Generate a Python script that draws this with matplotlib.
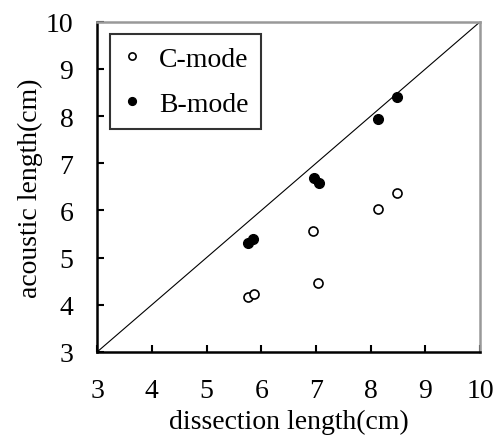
import numpy as np
import matplotlib.pyplot as plt

# dissection length vs acoustic length (cm)
c_dissection = [5.76, 5.87, 6.95, 7.04, 8.14, 8.48]
c_acoustic = [4.17, 4.23, 5.57, 4.46, 6.04, 6.38]

b_dissection = [5.75, 5.85, 6.97, 7.06, 8.14, 8.48]
b_acoustic = [5.32, 5.39, 6.68, 6.59, 7.93, 8.41]

ticks = [3, 4, 5, 6, 7, 8, 9, 10]

plt.rcParams['font.family'] = ['Liberation Serif', 'DejaVu Serif']

fig = plt.figure(figsize=(4.98, 4.39), dpi=100)
ax = fig.add_axes([0.195, 0.196, 0.769, 0.752])

# identity line
ax.plot([3, 10], [3, 10], color='black', lw=0.8, zorder=1)

ax.plot(c_dissection, c_acoustic, linestyle='none', marker='o', markersize=6.5,
        markerfacecolor='white', markeredgecolor='black', markeredgewidth=1.2,
        label='C-mode', zorder=3)
ax.plot(b_dissection, b_acoustic, linestyle='none', marker='o', markersize=7,
        markerfacecolor='black', markeredgecolor='black', label='B-mode', zorder=3)

ax.set_xlim(3, 10)
ax.set_ylim(3, 10)
ax.set_xticks(ticks)
ax.set_yticks(ticks)
ax.tick_params(direction='in', length=5, width=1.5, labelsize=20)
ax.tick_params(axis='x', pad=19)
ax.tick_params(axis='y', pad=17)

for side in ['left', 'bottom']:
    ax.spines[side].set_linewidth(1.8)
    ax.spines[side].set_color('black')
for side in ['top', 'right']:
    ax.spines[side].set_linewidth(1.8)
    ax.spines[side].set_color('#999999')

ax.set_xlabel('dissection length(cm)', fontsize=20, labelpad=4)
ax.set_ylabel('acoustic length(cm)', fontsize=20, labelpad=2)

leg = ax.legend(loc='upper left', bbox_to_anchor=(0.034, 0.964), borderaxespad=0,
                fontsize=20, frameon=True, fancybox=False, handlelength=0.7,
                handletextpad=0.6, borderpad=0.45, labelspacing=0.7, markerscale=0.8)
leg.get_frame().set_edgecolor('black')
leg.get_frame().set_linewidth(1.5)

fig.savefig('out.png', dpi=100)
